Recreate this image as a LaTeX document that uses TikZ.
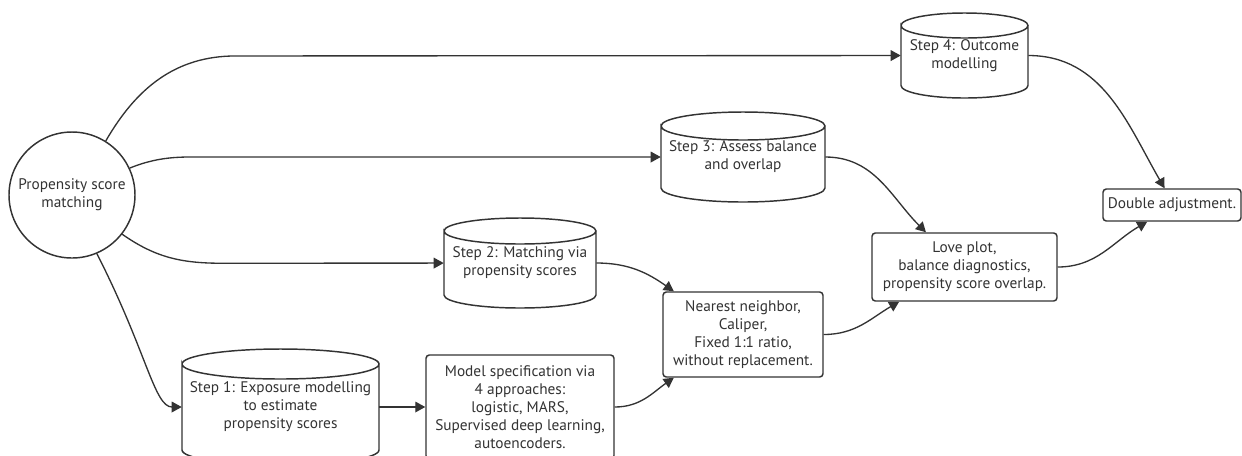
\documentclass[tikz,border=0pt]{standalone}
\usepackage{fontspec}
\setmainfont{PT Sans}
\usetikzlibrary{arrows.meta}
\definecolor{ink}{HTML}{333333}
\newcommand{\px}{0.75pt}
\tikzstyle{stage}=[draw=ink,line width=1.1pt,rounded corners=2.5pt,fill=white,align=center,inner sep=0pt]
\tikzstyle{drumtext}=[align=center,inner sep=0pt]
\tikzstyle{drumline}=[draw=ink,line width=1.1pt]
\tikzstyle{link}=[draw=ink,line width=1pt,-{Triangle[length=7.5pt,width=8pt]}]
% name, x, y, width, height, ellipse half height, text
\newcommand{\drum}[7]{
\pgfmathsetmacro{\rx}{#4/2}
\pgfmathsetmacro{\hh}{#5/2}
\pgfmathsetmacro{\ry}{#6}
\node[drumtext,minimum width=#4*\px,minimum height=#5*\px] (#1) at (#2,#3) {#7};
\draw[drumline] (#2-\rx,#3-\hh+\ry) arc[start angle=180,end angle=360,x radius=\rx,y radius=\ry]
  arc[start angle=0,end angle=180,x radius=\rx,y radius=\ry]
  -- (#2-\rx,#3+\hh-\ry) arc[start angle=180,end angle=0,x radius=\rx,y radius=\ry]
  -- (#2+\rx,#3-\hh+\ry);
}

\begin{document}
\begin{tikzpicture}[x=0.75pt,y=-0.75pt,text=ink,font=\fontsize{11.5}{13.5}\selectfont]
  \useasboundingbox (0,0) rectangle (1242,455);

  \node[draw=ink,line width=1.1pt,circle,minimum size=126*\px,align=center,inner sep=0pt] (psm) at (72,195) {Propensity score\\matching};

  \drum{step1}{280.5}{407}{197}{116}{15}{Step 1: Exposure modelling\\to estimate\\propensity scores}
  \drum{step2}{520}{263}{152}{90}{13}{Step 2: Matching via\\propensity scores}
  \drum{step3}{743}{157}{164}{90}{14}{Step 3: Assess balance\\and overlap}
  \drum{step4}{964.5}{55.5}{127}{85}{12.5}{Step 4: Outcome\\modelling}

  \node[stage,minimum width=188*\px,minimum height=104*\px] (spec) at (520,407) {Model specification via\\4 approaches:\\logistic, MARS,\\Supervised deep learning,\\autoencoders.};
  \node[stage,minimum width=160*\px,minimum height=85*\px] (nn) at (743,334.5) {Nearest neighbor,\\Caliper,\\Fixed 1:1 ratio,\\without replacement.};
  \node[stage,minimum width=185*\px,minimum height=68*\px] (love) at (964.5,267) {Love plot,\\balance diagnostics,\\propensity score overlap.};
  \node[stage,minimum width=138*\px,minimum height=32*\px] (dbl) at (1172,205) {Double adjustment.};

  % out of the matching circle
  \draw[link] (psm.58) to[out=60,in=180] ++(130,-85) -- (step4);
  \draw[link] (psm.25) to[out=22,in=180] ++(90,-11) -- (step3);
  \draw[link] (psm.-38) to[out=-35,in=180] ++(100,29) -- (step2);
  \draw[link] (psm.-67) to[out=-63,in=180,out looseness=1.6,in looseness=0.4] (step1);

  \draw[link] (step1) -- (spec);
  \draw[link] (spec) to[out=0,in=215] (nn.212);
  \draw[link] (step2) to[out=0,in=145] (nn.148);
  \draw[link] (nn) to[out=0,in=210] (love.208);
  \draw[link] (step3) to[out=0,in=135] (love.138);
  \draw[link] (love) to[out=0,in=210] (dbl.214);
  \draw[link] (step4) to[out=0,in=120] (dbl.114);
\end{tikzpicture}
\end{document}
